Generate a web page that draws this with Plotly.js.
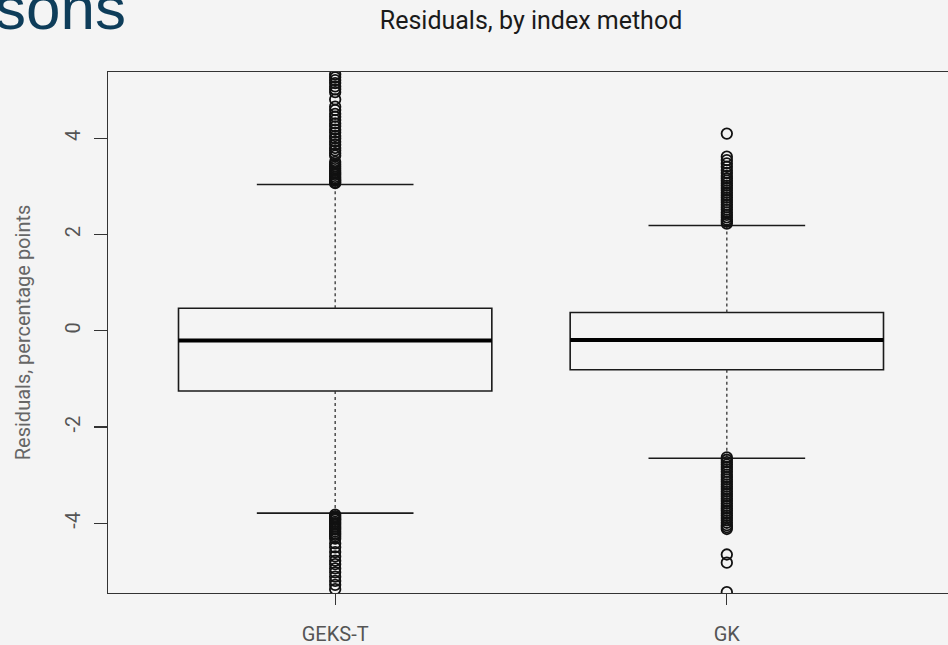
<!DOCTYPE html>
<html>
<head>
<meta charset="utf-8">
<script src="https://cdn.plot.ly/plotly-3.0.1.min.js"></script>
<style>
  html, body { margin: 0; padding: 0; background: #f4f4f4; overflow: hidden; }
  #chart { width: 960px; height: 645px; }
</style>
</head>
<body>
<div id="chart"></div>
<script>
// ---- data ----
const categories = ["GEKS-T", "GK"];
const q1Values = [-1.25, -0.81];
const medianValues = [-0.20, -0.19];
const q3Values = [0.47, 0.38];
const lowerWhisker = [-3.79, -2.65];
const upperWhisker = [3.04, 2.19];
const outliersGEKST = [5.33, 5.27, 5.21, 5.15, 5.08, 5.02, 4.96, 4.81, 4.66, 4.59, 4.51, 4.45, 4.38, 4.31, 4.25, 4.18, 4.12, 4.05, 4.0, 3.93, 3.87, 3.8, 3.75, 3.69, 3.64, 3.51, 3.46, 3.42, 3.38, 3.34, 3.3, 3.27, 3.24, 3.2, 3.17, 3.14, 3.12, 3.09, 3.07,
  -3.82, -3.85, -3.88, -3.91, -3.93, -3.97, -4.0, -4.03, -4.07, -4.1, -4.13, -4.17, -4.21, -4.24, -4.28, -4.32, -4.42, -4.5, -4.6, -4.69, -4.78, -4.85, -4.94, -5.02, -5.11, -5.2, -5.28, -5.37];
const outliersGK = [4.10, 3.62, 3.55, 3.48, 3.41, 3.34, 3.28, 3.22, 3.17, 3.12, 3.07, 3.02, 2.97, 2.92, 2.87, 2.82, 2.77, 2.72, 2.67, 2.62, 2.57, 2.52, 2.46, 2.41, 2.36, 2.31, 2.27, 2.23,
  -2.63, -2.68, -2.73, -2.78, -2.83, -2.88, -2.93, -2.99, -3.04, -3.09, -3.14, -3.19, -3.24, -3.29, -3.34, -3.39, -3.44, -3.49, -3.54, -3.59, -3.64, -3.69, -3.74, -3.79, -3.84, -3.89, -3.94, -3.99, -4.04, -4.08, -4.12, -4.65, -4.82, -5.43];
const yTicks = [-4, -2, 0, 2, 4];
const chartTitle = "Residuals, by index method";
const yTitle = "Residuals, percentage points";
const slideTitleFragment = "sons";

// ---- build traces ----
const pos = categories.map((c, i) => i);
const BOX_HALF = 0.4, CAP_HALF = 0.2;

const boxTrace = {
  type: "box",
  x: pos,
  q1: q1Values,
  median: medianValues,
  q3: q3Values,
  lowerfence: q1Values,
  upperfence: q3Values,
  width: 2 * BOX_HALF,
  whiskerwidth: 0,
  boxpoints: false,
  fillcolor: "rgba(0,0,0,0)",
  line: { color: "#1a1a1a", width: 1.6 },
  hoverinfo: "skip",
  showlegend: false
};

// whiskers (dotted)
const wx = [], wy = [];
pos.forEach((p, i) => {
  wx.push(p, p, null, p, p, null);
  wy.push(q3Values[i], upperWhisker[i], null, q1Values[i], lowerWhisker[i], null);
});
const whiskerTrace = {
  type: "scatter", mode: "lines", x: wx, y: wy,
  line: { color: "#333", width: 1.3, dash: "dot" },
  hoverinfo: "skip", showlegend: false
};

// staples
const sx = [], sy = [];
pos.forEach((p, i) => {
  sx.push(p - CAP_HALF, p + CAP_HALF, null, p - CAP_HALF, p + CAP_HALF, null);
  sy.push(upperWhisker[i], upperWhisker[i], null, lowerWhisker[i], lowerWhisker[i], null);
});
const stapleTrace = {
  type: "scatter", mode: "lines", x: sx, y: sy,
  line: { color: "#1a1a1a", width: 1.6 },
  hoverinfo: "skip", showlegend: false
};

// median (thick)
const mx = [], my = [];
pos.forEach((p, i) => {
  mx.push(p - BOX_HALF, p + BOX_HALF, null);
  my.push(medianValues[i], medianValues[i], null);
});
const medianTrace = {
  type: "scatter", mode: "lines", x: mx, y: my,
  line: { color: "#000", width: 4 },
  hoverinfo: "skip", showlegend: false
};

// outliers
const outlierSets = [outliersGEKST, outliersGK];
const ox = [], oy = [];
outlierSets.forEach((arr, i) => arr.forEach(v => { ox.push(pos[i]); oy.push(v); }));
const outlierTrace = {
  type: "scatter", mode: "markers", x: ox, y: oy,
  marker: { symbol: "circle-open", size: 10.5, color: "#111", line: { width: 1.8, color: "#111" } },
  cliponaxis: true,
  hoverinfo: "skip", showlegend: false
};

const layout = {
  width: 960, height: 645,
  margin: { l: 108, r: 6, t: 72, b: 52 },
  paper_bgcolor: "#f4f4f4",
  plot_bgcolor: "#f4f4f4",
  font: { family: "Roboto, 'Noto Sans', sans-serif", color: "#555" },
  title: {
    text: chartTitle,
    font: { family: "Roboto, sans-serif", size: 25, color: "#1a1a1a" },
    xref: "paper", x: 0.5, xanchor: "center",
    yref: "container", y: 1 - 20 / 645, yanchor: "middle"
  },
  xaxis: {
    range: [-0.58, 1.58],
    tickmode: "array", tickvals: pos, ticktext: categories,
    ticks: "outside", ticklen: 11, tickwidth: 1.3, tickcolor: "#333",
    showline: true, mirror: true, linecolor: "#333", linewidth: 1.4,
    showgrid: false, zeroline: false,
    tickfont: { size: 20, color: "#555" },
    ticklabelstandoff: 12
  },
  yaxis: {
    range: [-5.45, 5.38],
    tickmode: "array", tickvals: yTicks,
    ticktext: yTicks.map(v => String(v)),
    tickangle: -90,
    ticks: "outside", ticklen: 13, tickwidth: 1.3, tickcolor: "#333",
    showline: true, mirror: true, linecolor: "#333", linewidth: 1.4,
    showgrid: false, zeroline: false,
    tickfont: { size: 20, color: "#555" },
    ticklabelstandoff: 6,
    title: { text: yTitle, font: { size: 20, color: "#666" }, standoff: 24 }
  },
  annotations: [{
    text: slideTitleFragment,
    xref: "paper", yref: "paper",
    x: (128 - 108) / 846, xanchor: "right",
    y: (593 - 44) / 521, yanchor: "bottom",
    showarrow: false,
    font: { family: "'Liberation Sans', Arial, sans-serif", size: 62, color: "#0e3d5a" }
  }]
};

Plotly.newPlot("chart", [boxTrace, whiskerTrace, stapleTrace, medianTrace, outlierTrace], layout, { displayModeBar: false, staticPlot: true });
</script>
</body>
</html>
